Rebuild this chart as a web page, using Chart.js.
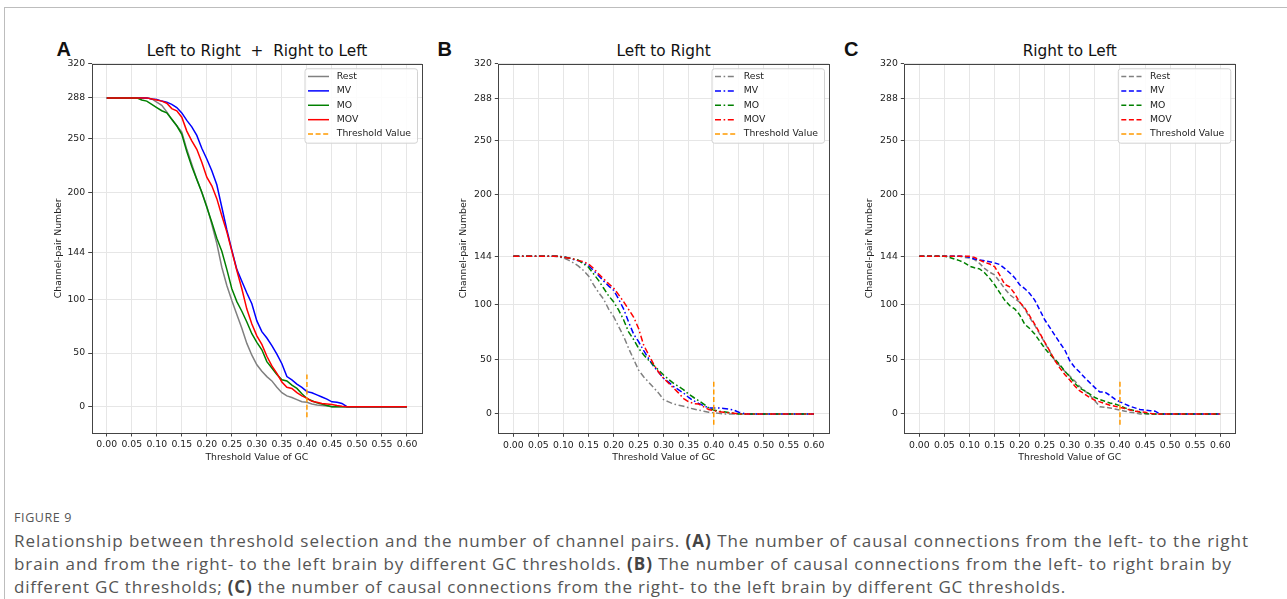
<!DOCTYPE html>
<html>
<head>
<meta charset="utf-8">
<script src="https://cdn.jsdelivr.net/npm/chart.js@4.4.1/dist/chart.umd.min.js"></script>
<style>
  html, body { margin:0; padding:0; background:#fff; }
  body { width:1287px; height:599px; overflow:hidden; position:relative; font-family:"DejaVu Sans", sans-serif; }
  .frame { position:absolute; left:4px; top:7px; width:1300px; height:620px; border-top:1px solid #bdbdbd; border-left:1px solid #bdbdbd; }
  canvas { position:absolute; }
  .title { position:absolute; width:400px; text-align:center; font-family:"DejaVu Sans", sans-serif; font-size:15.3px; line-height:18px; color:#111; white-space:nowrap; }
  .letter { position:absolute; font-family:"Liberation Sans", Arial, sans-serif; font-weight:bold; font-size:20px; line-height:20px; color:#111; }
  .caphead { position:absolute; left:14px; top:510px; font-family:"Open Sans", sans-serif; font-size:12.5px; line-height:16px; color:#555; letter-spacing:0.6px; white-space:nowrap; }
  .cap { position:absolute; left:14px; font-family:"Open Sans", sans-serif; font-size:17px; line-height:22px; color:#555; white-space:nowrap; }
  .cap b { color:#444; }
</style>
</head>
<body>
<div class="frame"></div>

<div class="letter" style="left:56.5px; top:39px;">A</div>
<div class="letter" style="left:437.5px; top:39px;">B</div>
<div class="letter" style="left:844px; top:39px;">C</div>

<div class="title" style="left:57px; top:42.4px;">Left to Right&nbsp; +&nbsp; Right to Left</div>
<div class="title" style="left:463.7px; top:42.4px;">Left to Right</div>
<div class="title" style="left:869.8px; top:42.4px;">Right to Left</div>

<canvas id="chartA" width="400" height="420" style="left:30px; top:55px; width:400px; height:420px;"></canvas>
<canvas id="chartB" width="400" height="420" style="left:440px; top:55px; width:400px; height:420px;"></canvas>
<canvas id="chartC" width="420" height="420" style="left:840px; top:55px; width:420px; height:420px;"></canvas>

<div class="caphead">FIGURE 9</div>
<div class="cap" data-w="1235" style="top:530px;">Relationship between threshold selection and the number of channel pairs. <b>(A)</b> The number of causal connections from the left- to the right</div>
<div class="cap" data-w="1218" style="top:553px;">brain and from the right- to the left brain by different GC thresholds. <b>(B)</b> The number of causal connections from the left- to right brain by</div>
<div class="cap" data-w="1052" style="top:576px;">different GC thresholds; <b>(C)</b> the number of causal connections from the right- to the left brain by different GC thresholds.</div>

<script>
// ---------------- data ----------------
const THRESHOLDS = [0.00,0.01,0.02,0.03,0.04,0.05,0.06,0.07,0.08,0.09,
  0.10,0.11,0.12,0.13,0.14,0.15,0.16,0.17,0.18,0.19,
  0.20,0.21,0.22,0.23,0.24,0.25,0.26,0.27,0.28,0.29,
  0.30,0.31,0.32,0.33,0.34,0.35,0.36,0.37,0.38,0.39,
  0.40,0.41,0.42,0.43,0.44,0.45,0.46,0.47,0.48,0.49,
  0.50,0.51,0.52,0.53,0.54,0.55,0.56,0.57,0.58,0.59,0.60];

const X_TICKS = [0.00,0.05,0.10,0.15,0.20,0.25,0.30,0.35,0.40,0.45,0.50,0.55,0.60];
const Y_TICKS = [0,50,100,144,200,250,288,320];
const SERIES_LABELS = ['Rest','MV','MO','MOV'];
const THRESHOLD_LABEL = 'Threshold Value';
const THRESHOLD_X = 0.40;
const THRESHOLD_SPAN = [-10, 30];

// Panel A: Left to Right + Right to Left
const A_REST = [288,288,288,288,288,288,288,288,288,
  287,284,281,275,268,262,256,240,226,212,200,187,170,152,130,113,99,86,73,59,48,39,33,28,24,18,13,10,8.5,6.5,4.5,4,2.5,1.5,1,0.5,
  0,0,0,0,0,0,0,0,0,0,0,0,0,0,0,0];
const A_MV = [288,288,288,288,288,288,288,288,288,
  287,286.5,285,284,282,279,274,267,261,253,241,231,220,207,186,165,146,128,117,106,96,80,70,64,57,49,40,28,25,21,18,14,13,11,9,7,4.5,4,3,
  0,0,0,0,0,0,0,0,0,0,0,0,0];
const A_MO = [288,288,288,288,288,288,288,
  286,285,282,279,276,274,268,262,254,238,224,212,200,186,172,157,145,128,110,98,89,79,68,60,53,42,36,30,25,24,20,17,12,7.5,5.5,3.5,2.5,1,
  0,0,0,0,0,0,0,0,0,0,0,0,0,0,0,0];
const A_MOV = [288,288,288,288,288,288,288,288,288,
  287,286,285,283,278,276,270,257,248,240,228,214,206,194,178,163,145,127,110,91,77,66,58,47,38,31,23,18,17,13,10,8,5,4,3,2.5,2,1,0.3,
  0,0,0,0,0,0,0,0,0,0,0,0,0];

// Panel B: Left to Right
const B_REST = [144,144,144,144,144,144,144,144,144,
  143.5,142.5,140.5,138,135,131,126,118,111,105,96,89,80,71,60,50,40,34,29,24,19,13,11,9,8,7,5.5,4.5,3.5,2.5,1.5,1,0.5,
  0,0,0,0,0,0,0,0,0,0,0,0,0,0,0,0,0,0,0];
const B_MV = [144,144,144,144,144,144,144,144,144,144,
  143.5,142.5,141,140,138,135.5,131,126.5,121.5,117,113,105,96,84,73,66,58,50.5,43.5,38,32.5,29,25,22,19,15,12,9.5,7.5,5.5,5.5,5.5,5,4.5,3.5,1.5,0.5,
  0,0,0,0,0,0,0,0,0,0,0,0,0,0];
const B_MO = [144,144,144,144,144,144,144,144,144,144,
  143.5,142.5,141.5,140.5,137,134,128,122,115,108,102.5,95,86,75,68,60,54,49,44.5,40,35.5,31.5,28,25,22,18,15,12,9,5.5,3.5,2.5,2,1.2,0.6,
  0,0,0,0,0,0,0,0,0,0,0,0,0,0,0,0];
const B_MOV = [144,144,144,144,144,144,144,144,144,144,
  143,142.5,141.5,140,139,137,133,128,123.5,119,115,109,102.5,95.5,88.5,78,63,54,45.5,38,32.5,28,23.5,19,14,11,9.5,9,6.5,4,3,2,1.5,1,0.6,
  0,0,0,0,0,0,0,0,0,0,0,0,0,0,0,0];

// Panel C: Right to Left
const C_REST = [144,144,144,144,144,144,144,144,144,
  143,142.5,141,137.5,133,129.5,127,121,114.5,109,105.5,102,96,88,81,73,65,57,49,44,39,34.5,30,25,21,17,12,6.5,6,5.5,4.5,3.5,2.5,1.5,1,
  0,0,0,0,0,0,0,0,0,0,0,0,0,0,0,0,0];
const C_MV = [144,144,144,144,144,144,144,144,144,144,
  143,141.5,140.5,140,139,138,136.5,133,129,124.5,118,114.5,110,104,95,86,79,72,65,58.5,48.5,42.5,38,33,28.5,24,20,20,17,13.5,11,9,7,5.5,4,3.5,3,2.5,
  0,0,0,0,0,0,0,0,0,0,0,0,0];
const C_MO = [144,144,144,144,144,144,
  143,141.5,140,138,135,133.5,132.5,129,124,118,111,104,99,96,90.5,82,78,73,66.5,60,54.5,50,45,39,34,28,23.5,21,18,15,13,11.5,10,9,7.5,5.5,4,3,1.5,0.5,
  0,0,0,0,0,0,0,0,0,0,0,0,0,0,0];
const C_MOV = [144,144,144,144,144,144,144,144,144,144,144,
  143,140.5,138.5,137,134.5,127,118.5,116,110,102,97,89.5,82,74,65.5,57.5,49,42,36,31,25.5,21,18,15,12.5,11,9.5,8,7,6,5,3.5,2.5,2,1.5,0.5,
  0,0,0,0,0,0,0,0,0,0,0,0,0,0];

const SERIES_COLORS = ['#808080','#0000ff','#008000','#ff0000'];
const THRESHOLD_COLOR = '#ff9a00';

// ---------------- caption fitting (letter spacing) ----------------
document.querySelectorAll('.cap').forEach(el => {
  const target = parseFloat(el.dataset.w);
  const natural = el.getBoundingClientRect().width;
  const n = el.textContent.length;
  el.style.letterSpacing = ((target - natural) / n) + 'px';
});

// ---------------- helpers ----------------
const TICK_FONT = {family:'DejaVu Sans', size:9.3};

const framePlusLegend = {
  id: 'framePlusLegend',
  afterDatasetsDraw(chart) {
    const {ctx, chartArea} = chart;
    ctx.save();
    const l = Math.round(chartArea.left) + 0.5, t = Math.round(chartArea.top) + 0.5;
    const r = Math.round(chartArea.right) + 0.5, b = Math.round(chartArea.bottom) + 0.5;
    ctx.strokeStyle = '#444'; ctx.lineWidth = 1; ctx.setLineDash([]);
    ctx.strokeRect(l, t, r - l, b - t);
    const w = 112.5, h = 74.4;
    const x0 = chartArea.right - 4.5 - w, y0 = chartArea.top + 5.2;
    ctx.beginPath();
    ctx.roundRect(x0, y0, w, h, 2.5);
    ctx.fillStyle = 'rgba(255,255,255,0.85)'; ctx.fill();
    ctx.strokeStyle = '#d2d2d2'; ctx.lineWidth = 1; ctx.stroke();
    chart.data.datasets.forEach((ds, i) => {
      const cy = y0 + 7.7 + i * 14.4;
      ctx.beginPath();
      ctx.setLineDash(ds.borderDash || []);
      ctx.strokeStyle = ds.borderColor; ctx.lineWidth = 1.5;
      ctx.moveTo(x0 + 3, cy); ctx.lineTo(x0 + 24, cy); ctx.stroke();
      ctx.setLineDash([]);
      ctx.fillStyle = '#222'; ctx.font = '9.3px "DejaVu Sans"'; ctx.textBaseline = 'middle'; ctx.textAlign = 'left';
      ctx.fillText(ds.label, x0 + 31.7, cy);
    });
    ctx.restore();
  }
};

function makeChart(id, cfg) {
  const pts = arr => THRESHOLDS.map((x, i) => ({x: x, y: arr[i]}));
  const datasets = SERIES_LABELS.map((lab, i) => ({
    label: lab,
    data: pts(cfg.series[i]),
    borderColor: SERIES_COLORS[i],
    borderDash: cfg.dash,
    borderWidth: 1.5,
    pointRadius: 0,
    fill: false,
    tension: 0,
    order: 4 - i
  }));
  datasets.push({
    label: THRESHOLD_LABEL,
    data: [{x: THRESHOLD_X, y: THRESHOLD_SPAN[0]}, {x: THRESHOLD_X, y: THRESHOLD_SPAN[1]}],
    borderColor: THRESHOLD_COLOR,
    borderDash: [5, 2.6],
    borderWidth: 1.5,
    pointRadius: 0,
    fill: false,
    order: 0
  });
  return new Chart(document.getElementById(id), {
    type: 'line',
    data: {datasets},
    options: {
      responsive: false,
      animation: false,
      devicePixelRatio: 1,
      events: [],
      layout: {padding: {left: 0, top: cfg.padTop, right: cfg.padRight, bottom: 0}},
      plugins: {legend: {display: false}, title: {display: false}, tooltip: {enabled: false}},
      scales: {
        x: {
          type: 'linear', min: -0.03, max: 0.63,
          afterBuildTicks: s => { s.ticks = X_TICKS.map(v => ({value: v})); },
          afterFit: s => { s.height = cfg.xH; },
          ticks: {autoSkip: false, maxRotation: 0, minRotation: 0, padding: 3, color: '#222', font: TICK_FONT,
                  callback: v => Number(v).toFixed(2)},
          grid: {color: '#e6e6e6', lineWidth: 1, drawTicks: true, tickLength: 3.5, tickColor: '#444', tickWidth: 1},
          border: {display: false},
          title: {display: true, text: 'Threshold Value of GC', color: '#222', font: TICK_FONT, padding: {top: 0, bottom: 12.1}}
        },
        y: {
          type: 'linear', min: cfg.yMin, max: 320,
          afterBuildTicks: s => { s.ticks = Y_TICKS.map(v => ({value: v})); },
          afterFit: s => { s.width = cfg.yW; },
          ticks: {padding: 3, color: '#222', font: TICK_FONT, callback: v => String(v)},
          grid: {color: '#e6e6e6', lineWidth: 1, drawTicks: true, tickLength: 3.5, tickColor: '#444', tickWidth: 1},
          border: {display: false},
          title: {display: true, text: 'Channel-pair Number', color: '#222', font: TICK_FONT, padding: {top: cfg.yTitlePad, bottom: 0}}
        }
      }
    },
    plugins: [framePlusLegend]
  });
}

makeChart('chartA', {series: [A_REST, A_MV, A_MO, A_MOV], dash: [], yMin: -24.6,
  padTop: 7, padRight: 8, yW: 61.7, xH: 42, yTitlePad: 22.7});
makeChart('chartB', {series: [B_REST, B_MV, B_MO, B_MOV], dash: [6, 2.6, 1.6, 2.6], yMin: -17.7,
  padTop: 7.3, padRight: 11, yW: 58.3, xH: 41.7, yTitlePad: 17.7});
makeChart('chartC', {series: [C_REST, C_MV, C_MO, C_MOV], dash: [5, 2.6], yMin: -17.7,
  padTop: 7.3, padRight: 24.7, yW: 64.3, xH: 41.7, yTitlePad: 24.4});
</script>
</body>
</html>
